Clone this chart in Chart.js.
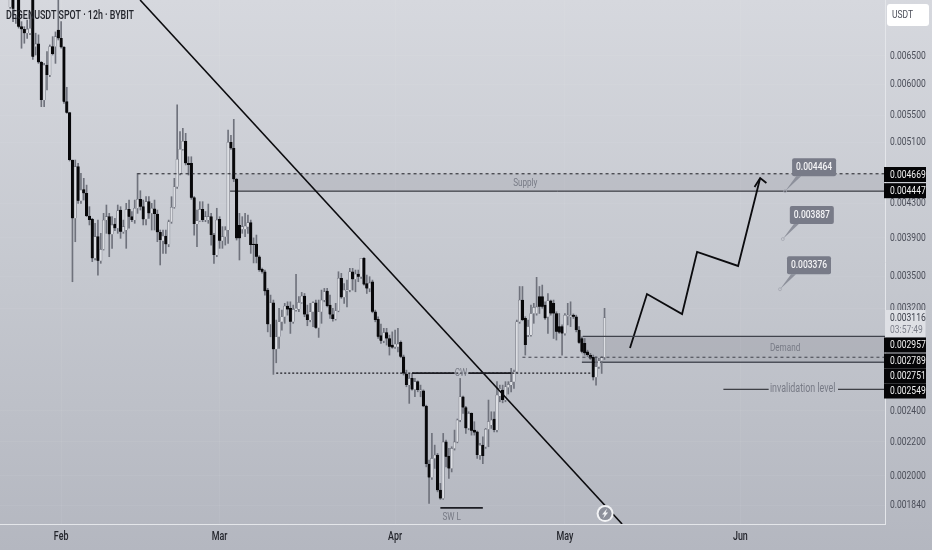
<!DOCTYPE html>
<html><head><meta charset="utf-8">
<script src="https://cdn.jsdelivr.net/npm/chart.js@4"></script>
<style>html,body{margin:0;padding:0;width:932px;height:550px;overflow:hidden;background:linear-gradient(180deg,#d6d8de 0%,#c5c8cf 50%,#b4b7c0 100%)}canvas{display:block}</style>
</head><body><canvas id="c" width="932" height="550"></canvas>
<script>
// Prices in micro-USDT (1 = 0.000001 USDT), one entry per 12h bar
const opens=[8200,8100,7850,7464,7800,7300,8000,7058,7006,6930,
6930,7700,6674,6724,6385,5744,6338,6162,6674,6674,
6992,6831,6663,5717,5544,4853,4120,4763,4329,4468,
4420,4147,4108,3682,3913,3658,3776,4100,4139,3939,
4055,4007,4217,3968,3987,4225,4139,4100,4238,4346,
4257,4108,4317,4178,4230,4170,3962,3869,3920,3830,
4081,4250,4501,4666,5001,5115,4808,4808,4366,4055,
4092,4225,4100,4100,4139,3931,3717,4108,3869,3913,
3987,5101,5015,4597,4040,3995,3995,4025,4070,3833,
3833,3699,3570,3546,3368,3059,3250,2852,2954,3081,
3125,3220,3200,3081,3184,3193,3253,3312,3145,3096,
3169,3250,3030,3169,3275,3358,3229,3145,3105,3178,
3481,3300,3361,3368,3546,3471,3523,3497,3682,3431,
3384,3448,3169,3102,2963,2921,2990,2940,2886,2872,
2872,2908,2793,2661,2579,2628,2548,2604,2538,2538,
2431,2066,1990,2099,2119,1920,1876,2199,2113,2041,
2159,2199,2338,2496,2422,2284,2382,2273,2262,2119,
2179,2169,2278,2306,2345,2273,2501,2543,2473,2562,
2579,2604,2677,3081,3275,3111,2968,2968,3154,3154,
3306,3306,3229,3125,3269,3245,3154,3040,3040,2982,
3130,3125,3139,3125,3010,2940,2900,2832,2806,2788,
2636,2715,2762,2788];
const highs=[8400,8300,8200,8200,8000,7900,8200,7158,7058,7192,
7300,7900,6930,6897,6400,6367,6580,6705,6863,6955,
7700,7158,6674,5953,5550,4853,4853,4808,4675,4610,
4523,4257,4120,4063,4100,3950,4178,4277,4178,4139,
4120,4277,4257,4100,4297,4337,4200,4337,4675,4452,
4337,4378,4378,4297,4337,4217,3987,3987,3987,4100,
4378,4610,5665,5255,5305,5231,4898,4898,4378,4217,
4317,4317,4200,4289,4178,3950,4238,4139,4025,4025,
5280,5200,5441,4610,4178,4139,4178,4158,4100,3900,
3931,3710,3583,3563,3384,3321,3275,3096,3200,3184,
3245,3259,3259,3229,3520,3306,3346,3336,3229,3245,
3259,3275,3275,3368,3384,3384,3321,3200,3245,3546,
3530,3431,3464,3580,3580,3563,3563,3682,3690,3513,
3497,3464,3184,3125,3061,3025,3025,2968,2995,3010,
3025,2920,2806,2690,2665,2665,2628,2610,2579,2545,
2438,2089,2252,2179,2129,1957,2252,2210,2159,2169,
2273,2345,2628,2501,2430,2393,2386,2327,2267,2190,
2231,2284,2473,2393,2393,2604,2579,2579,2604,2604,
2703,2690,3096,3402,3402,3125,3096,3229,3245,3491,
3402,3416,3259,3336,3275,3275,3169,3154,3054,3154,
3245,3259,3150,3139,3040,2954,2940,2845,2820,2806,
2793,2780,2793,3200];
const lows=[7700,7800,7750,7430,7158,7125,7030,6643,6737,6831,
6900,6439,6518,6367,5638,5638,5908,6133,6518,6367,
6799,6643,5691,5534,4840,3448,3858,4297,4297,4337,
4139,4044,3648,3665,3513,3631,3769,3950,3699,3787,
3980,3950,3895,3950,3787,4007,4081,4063,4178,4217,
4044,4044,4120,3987,3987,3858,3614,3734,3734,3804,
4063,4238,4481,4653,4991,4786,4653,4346,3931,3804,
4085,4081,4081,4063,3822,3631,3699,3787,3787,3822,
3840,5001,4567,3876,3665,3950,3913,3950,3734,3635,
3635,3550,3533,3321,2995,2954,2658,2746,2860,3010,
3068,3139,2982,3068,3175,3169,3245,3125,3047,3081,
3040,3025,2949,3068,3259,3213,3111,3087,3096,3169,
3291,3245,3213,3352,3368,3352,3448,3481,3416,3336,
3352,3160,3081,2940,2900,2905,2886,2806,2860,2860,
2832,2785,2653,2567,2450,2543,2496,2531,2496,2427,
2050,1850,1979,2041,1911,1871,1871,2050,1985,2021,
2149,2193,2327,2382,2252,2275,2241,2241,2099,2093,
2069,2159,2169,2284,2262,2262,2461,2454,2461,2515,
2531,2555,2670,3068,3090,2806,2954,2960,3068,3139,
3154,3200,3102,2982,3139,2940,2927,2982,2806,2968,
3054,3040,3110,2995,2900,2824,2806,2795,2772,2616,
2579,2703,2665,2772];
const closes=[7900,7850,8050,7900,7430,7700,7058,7006,6930,7006,
7027,6486,6724,6385,5744,6338,6162,6674,6537,6863,
6831,6663,5717,5544,4853,4120,4763,4329,4461,4420,
4147,4100,3682,3913,3658,3776,4100,4139,3939,4044,
4007,4209,3968,4025,4225,4139,4100,4238,4346,4257,
4108,4317,4178,4238,4170,3962,3876,3920,3830,4081,
4250,4501,4863,5001,5115,4808,4786,4366,4055,4092,
4225,4100,4139,4139,3931,3717,4100,3869,3913,3987,
5101,5015,4597,3895,3895,4025,4032,4070,3822,3822,
3699,3563,3546,3358,3059,3250,2852,2954,3081,3125,
3220,3190,3081,3190,3200,3253,3312,3145,3096,3169,
3250,3030,3169,3275,3352,3220,3145,3105,3178,3481,
3300,3368,3368,3546,3471,3523,3497,3682,3421,3384,
3437,3169,3096,2954,2921,2990,2940,2872,2867,2894,
2894,2793,2665,2579,2628,2548,2604,2543,2543,2431,
2066,1990,2099,2119,1920,1876,2199,2109,2041,2159,
2199,2338,2496,2422,2284,2382,2269,2258,2119,2179,
2113,2278,2328,2338,2273,2508,2555,2473,2567,2584,
2604,2677,3081,3275,3096,2886,3040,3154,3208,3213,
3213,3213,3111,3269,3154,3154,2995,2990,2982,3139,
3139,3139,3125,3010,2905,2832,2820,2806,2780,2636,
2715,2762,2788,3116];

const months=['Feb','Mar','Apr','May','Jun'];
const monthBars=[21,77,139,199,261];
const priceTicks=[0.0065,0.006,0.0055,0.0051,0.0043,0.0039,0.0035,0.0032,0.0024,0.0022,0.002,0.00184];
const xMin=-0.6, xMax=312.1, yMin=0.001746, yMax=0.007607;

// Drawn levels and studies: [bar, price]
const p=v=>v/1e6;
const trendLine=[[48.9,7607],[219.2,1746]];
const projection=[[222,2863],[228,3331],[240.4,3149],[245.7,3748],[260.2,3604],[268,4614]];
const arrowHead=[[266,4500],[268,4614],[270.2,4550]];
const supplyTop=[[48,4669],[xMax,4669]];
const supplyBottom=[[80.7,4447],[xMax,4447]];
const demandTop=[[205.3,2957],[xMax,2957]];
const demandMid=[[184,2789],[xMax,2789]];
const demandBottom=[[205,2751],[xMax,2751]];
const dottedLevel=[[97,2667],[208,2667]];
const chochLeft=[[145,2667],[160,2667]];
const chochRight=[[165,2667],[180,2667]];
const sweepLow=[[155,1827],[170,1827]];
const invalidLeft=[[255,2549],[271,2549]];
const invalidRight=[[295.5,2549],[xMax,2549]];

const chartLabels=[
 {text:'Supply',bar:185,price:4550},
 {text:'Demand',bar:276.8,price:2863},
 {text:'CW',bar:162.3,price:2667},
 {text:'SW L',bar:159,price:1780},
 {text:'invalidation level',bar:283,price:2549}
];
const callouts=[
 {text:'0.004464',bar:276.8,price:4447},
 {text:'0.003887',bar:276,price:3887},
 {text:'0.003376',bar:275,price:3376}
];
const axisTags=['0.004669','0.004447','0.002957','0.002789','0.002751','0.002549'];
const axisTagY=[174.5,190.7,345,361,376,391];
const titleText='DEGENUSDT SPOT · 12h · BYBIT';
const lastPrice='0.003116', countdown='03:57:49', currency='USDT';

const FONT='Roboto,"Liberation Sans",sans-serif';
const pts=a=>a.map(([x,y])=>({x,y:p(y)}));
const line=(data,color,width,dash,extra)=>Object.assign({type:'line',data:pts(data),borderColor:color,borderWidth:width,borderDash:dash||[],pointRadius:0,fill:false,tension:0,order:1,parsing:false},extra||{});
const isUp=i=>closes[i]>=opens[i];

// the reference's lettering is horizontally condensed
const SQUEEZE=0.74;
const canvas=document.getElementById('c');
const ctx2d=canvas.getContext('2d');
const rawFill=ctx2d.fillText.bind(ctx2d);
ctx2d.fillText=function(t,x,y){ctx2d.save();ctx2d.translate(x,y);ctx2d.scale(SQUEEZE,1);rawFill(t,0,0);ctx2d.restore();};

const overlay={id:'overlay',
 afterDatasetsDraw(c){
  const g=c.ctx,xs=c.scales.x,ys=c.scales.y;
  g.save();
  g.textAlign='left';g.textBaseline='middle';
  g.fillStyle='#23252c';g.font='500 12px '+FONT;
  g.fillText(titleText,6,15.5);
  g.textAlign='center';
  chartLabels.forEach(l=>{
    g.font=(l.text==='invalidation level'?'12px ':'11px ')+FONT;
    g.fillStyle='#777a85';
    g.fillText(l.text,xs.getPixelForValue(l.bar),ys.getPixelForValue(p(l.price)));
  });
  callouts.forEach(k=>{
    const ax=xs.getPixelForValue(k.bar),ay=ys.getPixelForValue(p(k.price));
    g.fillStyle='#8d909b';
    g.beginPath();g.moveTo(ax,ay);g.lineTo(ax+11,ay-15);g.lineTo(ax+16,ay-15);g.closePath();g.fill();
    g.strokeStyle='#a4a7b1';g.lineWidth=.8;
    g.beginPath();g.arc(ax,ay,1.5,0,Math.PI*2);g.stroke();
    g.fillStyle='#787b88';
    g.beginPath();g.roundRect(ax+7,ay-33,44,18,2);g.fill();
    g.fillStyle='#f4f4f6';g.font='500 11.5px '+FONT;
    g.fillText(k.text,ax+29,ay-24);
  });
  // alert marker near the last bars
  const mx=xs.getPixelForValue(213.2),my=ys.getPixelForValue(p(1798));
  g.beginPath();g.arc(mx,my,8.5,0,Math.PI*2);g.fillStyle='#f2f3f5';g.fill();
  g.beginPath();g.arc(mx,my,6.5,0,Math.PI*2);g.fillStyle='#8d909b';g.fill();
  g.fillStyle='#f2f3f5';g.beginPath();
  g.moveTo(mx+2,my-5);g.lineTo(mx-3,my+1);g.lineTo(mx-.5,my+1);g.lineTo(mx-2,my+5);g.lineTo(mx+3,my-1);g.lineTo(mx+.5,my-1);g.closePath();g.fill();
  g.restore();
 },
 afterDraw(c){
  const g=c.ctx,R=c.chartArea.right;
  g.save();
  g.textAlign='left';g.textBaseline='middle';
  g.fillStyle='#fff';g.beginPath();g.roundRect(887,4,42,22,3);g.fill();
  g.fillStyle='#4a4d58';g.font='11.5px '+FONT;g.fillText(currency,892,15);
  g.fillStyle='#dee0e5';g.fillRect(R,310,40.5,27);
  g.fillStyle='#3d404b';g.font='11.5px '+FONT;g.fillText(lastPrice,R+5,318);
  g.fillStyle='#7c7f8a';g.fillText(countdown,R+5,330.5);
  axisTags.forEach((t,i)=>{
    g.fillStyle='#050507';g.fillRect(R-1,axisTagY[i]-7.5,42,15);
    g.fillStyle='#f2f2f2';g.font='11.5px '+FONT;g.fillText(t,R+5,axisTagY[i]+.5);
  });
  g.restore();
 }
};

new Chart(canvas,{
 type:'bar',
 plugins:[overlay],
 data:{datasets:[
  {label:'wicks',data:opens.map((_,i)=>({x:i,y:[p(lows[i]),p(highs[i])]})),backgroundColor:'#6f727c',barThickness:1,grouped:false,order:5},
  {label:'bodies',data:opens.map((_,i)=>({x:i,y:[p(opens[i]),p(closes[i])]})),
   backgroundColor:c=>isUp(c.dataIndex)?'#dcdee3':'#08080a',
   borderColor:c=>isUp(c.dataIndex)?'#6f727c':'#08080a',
   borderWidth:.6,barThickness:2.6,minBarLength:1,grouped:false,order:4},
  line(supplyBottom,'#1c1d23',1,[],{fill:{value:p(4669)},backgroundColor:'rgba(105,108,120,.15)',order:6}),
  line(demandBottom,'#4d505a',1.5,[],{fill:{value:p(2957)},backgroundColor:'rgba(85,88,100,.15)',order:6}),
  line(supplyTop,'#1c1d23',1,[3,3]),
  line(demandTop,'#40434c',1.2),
  line(demandMid,'#40434c',1,[3,3]),
  line(dottedLevel,'#1c1d23',1.2,[2,2]),
  line(chochLeft,'#1c1d23',1.8),
  line(chochRight,'#1c1d23',1.8),
  line(sweepLow,'#1c1d23',1.8),
  line(invalidLeft,'#1c1d23',1),
  line(invalidRight,'#1c1d23',1),
  line(trendLine,'#0b0b0e',1.6),
  line(projection,'#0b0b0e',1.8),
  line(arrowHead,'#0b0b0e',1.8)
 ]},
 options:{
  responsive:false,animation:false,devicePixelRatio:1,
  layout:{padding:0},
  plugins:{legend:{display:false},tooltip:{enabled:false}},
  scales:{
   x:{type:'linear',min:xMin,max:xMax,offset:false,
    grid:{color:'rgba(255,255,255,.05)',drawTicks:false,offset:false},
    border:{color:'#e4e6ea',width:1},
    afterBuildTicks:s=>{s.ticks=monthBars.map(v=>({value:v}));},
    afterFit:s=>{s.height=26;s.paddingLeft=s.paddingRight=s.paddingTop=s.paddingBottom=0;},
    ticks:{autoSkip:false,maxRotation:0,padding:6,color:'#23252c',font:{family:FONT,size:12,weight:'500'},
     callback:v=>months[monthBars.indexOf(v)]??''}},
   y:{type:'logarithmic',position:'right',min:yMin,max:yMax,
    grid:{color:'rgba(255,255,255,.05)',drawTicks:false},
    border:{color:'#e4e6ea',width:1},
    afterBuildTicks:s=>{s.ticks=priceTicks.map(v=>({value:v}));},
    afterFit:s=>{s.width=47;s.paddingLeft=s.paddingRight=s.paddingTop=s.paddingBottom=0;},
    ticks:{autoSkip:false,padding:5,color:'#4a4d58',font:{family:FONT,size:11.5},
     callback:v=>Number(v).toFixed(6)}}
  }
 }
});
</script>
</body></html>
